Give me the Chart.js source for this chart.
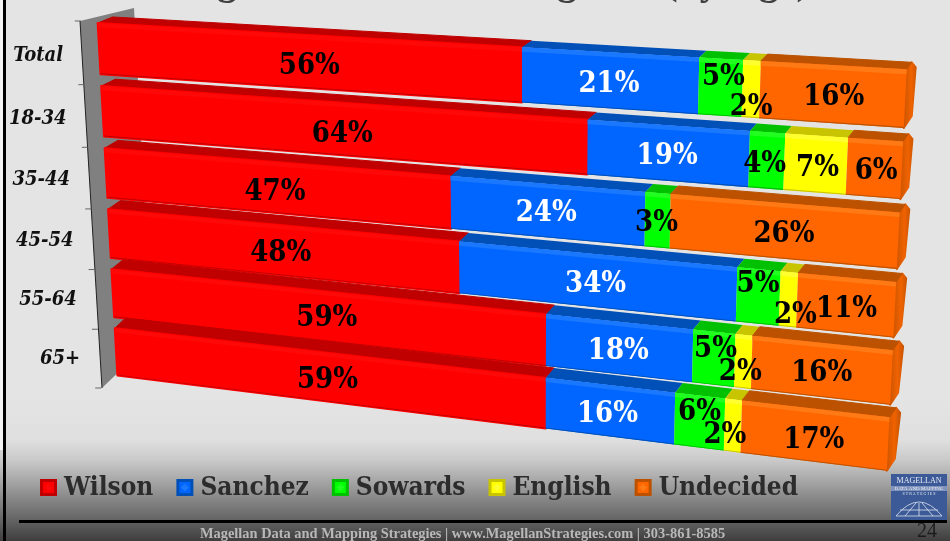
<!DOCTYPE html>
<html><head><meta charset="utf-8">
<style>html,body{margin:0;padding:0;background:#e4e4e4;overflow:hidden}canvas{display:block}</style>
<script src="https://cdn.jsdelivr.net/npm/chart.js@4"></script></head>
<body><canvas id="c" width="950" height="541"></canvas>
<script>
const categories=['Total','18-34','35-44','45-54','55-64','65+'];
const seriesNames=['Wilson','Sanchez','Sowards','English','Undecided'];
const wilson=[56,64,47,48,59,59];
const sanchez=[21,19,24,34,18,16];
const sowards=[5,4,3,5,5,6];
const english=[2,7,0,2,2,2];
const undecided=[16,6,26,11,16,17];
const seriesValues=[wilson,sanchez,sowards,english,undecided];
const faceColors=['#ff0000','#0066ff','#00ff00','#ffff00','#ff6600'];
const topColors=['#c00000','#0050b8','#00c000','#c8c400','#bc5200'];
const glossColors=['#ff0808','#1a78ff','#20ff20','#ffff30','#ff7a14'];
const labelColors=['#000','#fff','#000','#000','#000'];
// hand-placed shifts of the value labels (pixels), row by row
const labelNudge=[
[[8,3],[1,2],[4,-12],[1,16],[3,1]],
[[9,4],[1,1],[-1,2],[3,2],[3,1]],
[[3,3],[1,1],[0,1],[0,0],[3,2]],
[[3,1],[2,2],[1,-14],[8,14],[2,2]],
[[7,1],[1,1],[3,-11],[-2,9],[2,2]],
[[6,2],[-1,2],[1,-11],[-7,8],[1,3]]];
const serif='"Liberation Serif",serif';
const heavy='"DejaVu Serif Condensed","DejaVu Serif",serif';

// perspective of the chart plane: corners of the plot area on screen
const Q=[[97.3,17],[907,62.4],[886.5,477],[117.7,381]];
function solve(q){
  const [p0,p1,p2,p3]=q;
  const dx1=p1[0]-p2[0],dx2=p3[0]-p2[0],dx3=p0[0]-p1[0]+p2[0]-p3[0];
  const dy1=p1[1]-p2[1],dy2=p3[1]-p2[1],dy3=p0[1]-p1[1]+p2[1]-p3[1];
  const D=dx1*dy2-dx2*dy1,g=(dx3*dy2-dx2*dy3)/D,h=(dx1*dy3-dx3*dy1)/D;
  return {a:p1[0]-p0[0]+g*p1[0],b:p3[0]-p0[0]+h*p3[0],c:p0[0],d:p1[1]-p0[1]+g*p1[1],e:p3[1]-p0[1]+h*p3[1],f:p0[1],g,h};
}
const H=solve(Q);
function uv(u,v){const w=H.g*u+H.h*v+1;return [(H.a*u+H.b*v+H.c)/w,(H.d*u+H.e*v+H.f)/w];}
function depth(u,v){ // depth vector of the 3-D bars
  const l=[15-5*v,-6-5*v], r=[5+2*v,-7-3*v];
  return [l[0]+(r[0]-l[0])*u,l[1]+(r[1]-l[1])*u];
}
function poly(ctx,pts,fill,stroke){
  ctx.beginPath();pts.forEach((p,i)=>i?ctx.lineTo(p[0],p[1]):ctx.moveTo(p[0],p[1]));ctx.closePath();
  ctx.fillStyle=fill;ctx.fill();
  if(stroke){ctx.lineJoin='round';ctx.lineWidth=stroke;ctx.strokeStyle=fill;ctx.stroke();}
}
function add(p,d){return [p[0]+d[0],p[1]+d[1]];}

const perspectiveBars={
  id:'perspectiveBars',
  beforeDraw(chart){
    const ctx=chart.ctx;
    const g=ctx.createLinearGradient(0,0,0,541);
    [[0,'#e4e4e4'],[400/541,'#e4e4e4'],[440/541,'#dfdfdf'],[460/541,'#cacaca'],[480/541,'#a8a8a8'],[500/541,'#858585'],[520/541,'#646464'],[1,'#3e3e3e']].forEach(s=>g.addColorStop(s[0],s[1]));
    ctx.fillStyle=g;ctx.fillRect(0,0,950,541);
    ctx.fillStyle='#000';ctx.fillRect(3,0,3,541);
    ctx.fillStyle='#f4f4f4';ctx.fillRect(0,0,3,450);
    // cropped title
    ctx.fillStyle='#404040';ctx.font='bold 40px '+serif;ctx.textBaseline='alphabetic';ctx.textAlign='center';
    ctx.fillText('g',227,-6);ctx.fillText('g',567,-6);ctx.fillText('(by Age)',737,-6);
  },
  beforeDatasetsDraw(chart){
    const ctx=chart.ctx,A=chart.chartArea,n=chart.data.labels.length;
    const U=x=>(x-A.left)/(A.right-A.left),V=y=>(y-A.top)/(A.bottom-A.top);
    // wall
    poly(ctx,[[80,21],[134,8],[152,340],[102,388]],'#808080');
    ctx.strokeStyle='#222';ctx.lineWidth=1;ctx.beginPath();ctx.moveTo(80,21);ctx.lineTo(102,388);ctx.stroke();
    // ticks on the band edges of the category axis
    ctx.strokeStyle='#666';
    for(let i=0;i<=n;i++){
      const v=i/n,p=uv(0,v),x=p[0]-16.5,y=p[1]+4+3*v;
      ctx.beginPath();ctx.moveTo(x,y);ctx.lineTo(x-6,y);ctx.stroke();
    }
    for(let r=0;r<n;r++){
      const last=chart.data.datasets.reduce((m,d,i)=>d.data[r]>0?i:m,0);
      chart.data.datasets.forEach((ds,di)=>{
        const el=chart.getDatasetMeta(di).data[r];
        if(!ds.data[r])return;
        const u0=U(el.base),u1=U(el.x),vT=V(el.y-el.height/2),vB=V(el.y+el.height/2);
        const TL=uv(u0,vT),TR=uv(u1,vT),BL=uv(u0,vB),BR=uv(u1,vB);
        // end cap
        if(di===last){
          const dT=depth(u1,vT),back=add(TR,dT);
          const cap=[TR,back,add(back,[4,5]),add(BR,[8,-12]),BR];
          const gr=ctx.createLinearGradient(TR[0]-4,0,TR[0]+12,0);
          gr.addColorStop(0,'#c85400');gr.addColorStop(.55,'#f06200');gr.addColorStop(1,'#c25200');
          poly(ctx,cap,gr,2);
        }
        // top face
        poly(ctx,[TL,TR,add(TR,depth(u1,vT)),add(TL,depth(u0,vT))],topColors[di],di===0||di===last?1:0);
        // front
        poly(ctx,[TL,TR,BR,BL],ds.backgroundColor,(di===0)?2:0);
        const dv=0.011;
        poly(ctx,[TL,TR,uv(u1,vT+dv),uv(u0,vT+dv)],glossColors[di]);
        poly(ctx,[uv(u0,vB-0.0025),uv(u1,vB-0.0025),BR,BL],topColors[di]);
      });
    }
    return false;
  },
  afterDraw(chart){
    const ctx=chart.ctx,A=chart.chartArea;
    const U=x=>(x-A.left)/(A.right-A.left),V=y=>(y-A.top)/(A.bottom-A.top);
    ctx.textBaseline='middle';
    // value labels
    ctx.font='bold 29px '+heavy;ctx.textAlign='center';
    chart.data.datasets.forEach((ds,di)=>{
      chart.getDatasetMeta(di).data.forEach((el,r)=>{
        const val=ds.data[r];if(!val)return;
        const p=uv((U(el.base)+U(el.x))/2,V(el.y)),nd=labelNudge[r][di];
        ctx.fillStyle=labelColors[di];
        ctx.fillText(val+'%',p[0]+nd[0]-1,p[1]+nd[1]+2);
      });
    });
    // category labels
    ctx.font='italic bold 20px '+heavy;ctx.textAlign='right';ctx.fillStyle='#111';
    chart.data.labels.forEach((c,i)=>{
      const p=uv(0,V(chart.scales.y.getPixelForTick(i)));
      ctx.fillText(c,p[0]-36,p[1]+7);
    });
    // legend
    ctx.font='bold 26px '+heavy;ctx.textAlign='left';
    let x=40;
    chart.data.datasets.forEach((ds,di)=>{
      const s=17,y=479,cx=x+s/2,cy=y+s/2,m=4;
      poly(ctx,[[x,y],[x+s,y],[x+s,y+s],[x,y+s]],topColors[di]);
      poly(ctx,[[x+3,y+3],[x+s-3,y+3],[x+s-3,y+s-3],[x+3,y+s-3]],ds.backgroundColor);
      poly(ctx,[[cx-m,cy],[cx,cy-m],[cx+m,cy],[cx,cy+m]],glossColors[di]);
      ctx.fillStyle='#2c2c2c';
      ctx.fillText(ds.label,x+24,488);
      x+=24+ctx.measureText(ds.label).width+23;
    });
    // footer
    ctx.fillStyle='#000';ctx.fillRect(19,520,928,3);
    ctx.font='bold 14.4px '+serif;ctx.textAlign='left';ctx.fillStyle='#b8b8b8';
    ctx.fillText('Magellan Data and Mapping Strategies | www.MagellanStrategies.com | 303-861-8585',200,534);
    ctx.font='20px '+serif;ctx.fillStyle='#1c1c1c';
    ctx.fillText('24',917,532);
    // logo
    ctx.fillStyle='#3b5a97';ctx.fillRect(891,474,56,46);
    ctx.fillStyle='#7f93bd';ctx.fillRect(891,486,56,5);
    ctx.fillStyle='#e8ecf4';ctx.textAlign='center';
    ctx.font='8px '+serif;ctx.fillText('MAGELLAN',919,481);
    ctx.font='5px '+serif;ctx.fillText('DATA AND MAPPING',919,488.5);
    ctx.font='4px '+serif;ctx.fillText('S T R A T E G I E S',919,494);
    ctx.strokeStyle='#dfe5f0';ctx.lineWidth=.8;
    ctx.beginPath();ctx.moveTo(896,516);ctx.quadraticCurveTo(919,488,942,516);ctx.closePath();
    ctx.moveTo(905,516);ctx.lineTo(916,503);ctx.moveTo(933,516);ctx.lineTo(922,503);ctx.moveTo(900,510);ctx.lineTo(938,510);ctx.moveTo(919,516);ctx.lineTo(919,503);
    ctx.stroke();
  }
};

new Chart(document.getElementById('c'),{
  type:'bar',
  data:{labels:categories,datasets:seriesNames.map((name,i)=>({label:name,data:seriesValues[i],backgroundColor:faceColors[i],barPercentage:0.81,categoryPercentage:1}))},
  options:{
    indexAxis:'y',responsive:false,animation:false,
    layout:{padding:0},
    scales:{x:{stacked:true,min:0,max:100,display:false},y:{stacked:true,display:false}},
    plugins:{legend:{display:false},title:{display:false},tooltip:{enabled:false}}
  },
  plugins:[perspectiveBars]
});
</script></body></html>
